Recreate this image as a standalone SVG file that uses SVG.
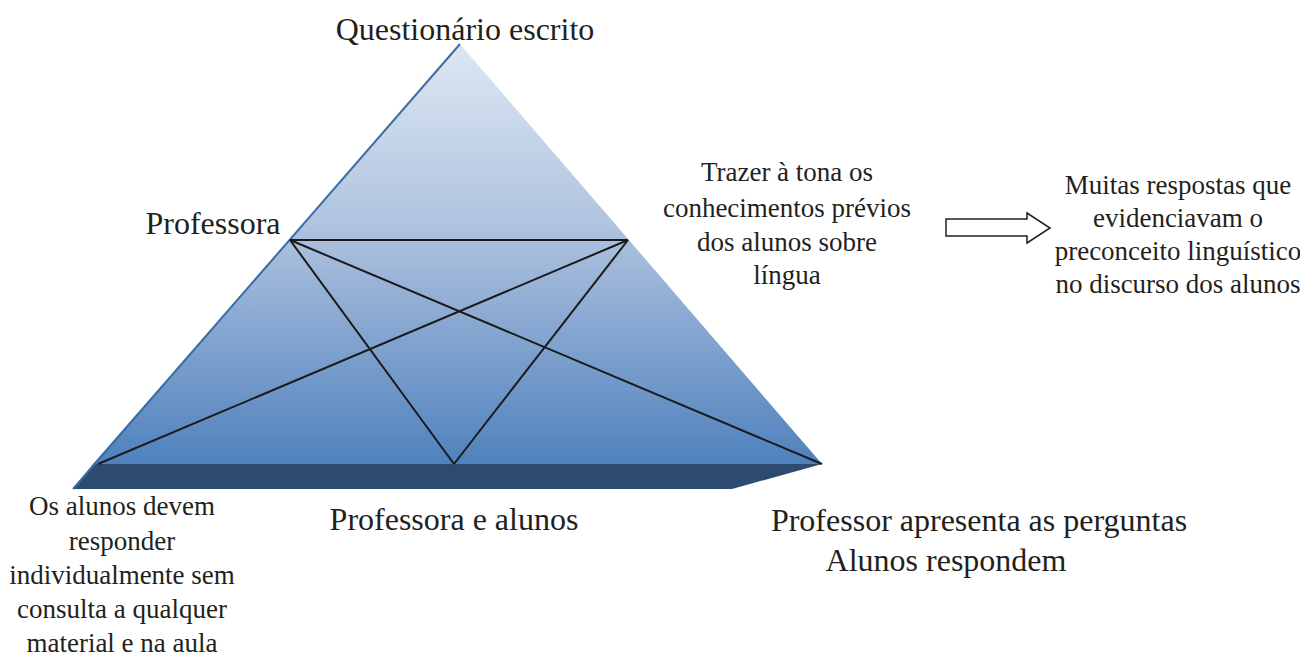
<svg xmlns="http://www.w3.org/2000/svg" width="1300" height="656" viewBox="0 0 1300 656">
<defs>
<linearGradient id="face" x1="0" y1="44" x2="0" y2="465" gradientUnits="userSpaceOnUse">
<stop offset="0" stop-color="#dde7f3"/>
<stop offset="0.45" stop-color="#adc1de"/>
<stop offset="1" stop-color="#4f81bd"/>
</linearGradient>
<style>
text{font-family:"Liberation Serif","Times New Roman",serif;fill:#231f20;text-anchor:middle}
.big{font-size:32px}
.sm{font-size:27px}
.ln{stroke:#1a1a1a;stroke-width:2;fill:none}
</style>
</defs>
<g id="pyramid">
<polygon points="460,44 822,464 93,464" fill="url(#face)"/>
<polygon points="93,464 822,464 732,489 73,489" fill="#2c4b6e"/>
<line x1="460" y1="44" x2="73" y2="489" stroke="#3b6ea5" stroke-width="2"/>
</g>
<g id="connectors">
<line class="ln" x1="290" y1="240" x2="628" y2="240"/>
<line class="ln" x1="290" y1="240" x2="822" y2="464"/>
<line class="ln" x1="628" y1="240" x2="98" y2="464"/>
<line class="ln" x1="290" y1="240" x2="454" y2="464"/>
<line class="ln" x1="628" y1="240" x2="454" y2="464"/>
</g>
<g id="arrow">
<polygon points="946,219 1027,219 1027,213 1050,228 1027,243 1027,236 946,236" fill="#fff" stroke="#231f20" stroke-width="1.5"/>
</g>
<g id="label-top"><text class="big" x="465" y="40">Questionário escrito</text></g>
<g id="label-professora"><text class="big" x="213" y="234">Professora</text></g>
<g id="label-trazer">
<text class="sm" x="787" y="181">Trazer à tona os</text>
<text class="sm" x="787" y="217">conhecimentos prévios</text>
<text class="sm" x="787" y="251">dos alunos sobre</text>
<text class="sm" x="787" y="284">língua</text>
</g>
<g id="label-muitas">
<text class="sm" x="1178" y="194">Muitas respostas que</text>
<text class="sm" x="1178" y="227">evidenciavam o</text>
<text class="sm" x="1178" y="260">preconceito linguístico</text>
<text class="sm" x="1178" y="293">no discurso dos alunos</text>
</g>
<g id="label-alunos">
<text class="sm" x="122" y="515">Os alunos devem</text>
<text class="sm" x="122" y="550">responder</text>
<text class="sm" x="122" y="584">individualmente sem</text>
<text class="sm" x="122" y="618">consulta a qualquer</text>
<text class="sm" x="122" y="652">material e na aula</text>
</g>
<g id="label-base"><text class="big" x="454" y="530">Professora e alunos</text></g>
<g id="label-right">
<text class="big" x="979" y="531">Professor apresenta as perguntas</text>
<text class="big" x="946" y="571">Alunos respondem</text>
</g>
</svg>
